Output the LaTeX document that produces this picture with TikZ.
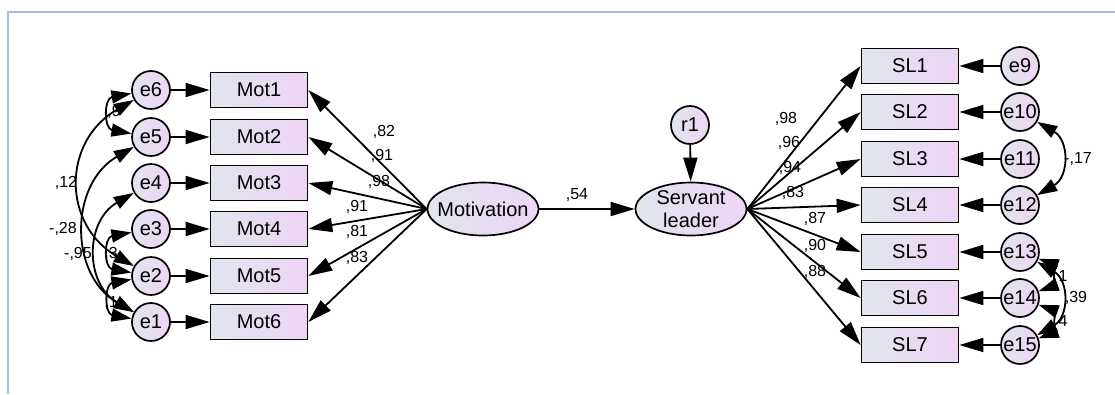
\documentclass[tikz,border=0pt]{standalone}
\usepackage{fontspec}
\setmainfont{Liberation Sans}
\usetikzlibrary{arrows.meta,shapes.geometric}

\definecolor{fillleft}{HTML}{E1E5EE}
\definecolor{fillright}{HTML}{EDD5F3}
\definecolor{framecol}{HTML}{A3BAEA}

\begin{document}
\begin{tikzpicture}[x=1pt,y=-1pt]
\tikzset{obs/.style = {rectangle,draw,line width=1.7pt,minimum width=97pt,minimum height=35pt,left color=fillleft,right color=fillright,font=\fontsize{20}{23}\selectfont}}
\tikzset{err/.style = {circle,draw,line width=1.7pt,minimum size=38pt,inner sep=0pt,left color=fillleft,right color=fillright,font=\fontsize{20}{23}\selectfont}}
\tikzset{latent/.style = {ellipse,draw,line width=1.7pt,minimum width=111pt,minimum height=53pt,inner xsep=-8pt,inner ysep=-7pt,align=center,left color=fillleft,right color=fillright,font=\fontsize{20}{23}\selectfont}}
\tikzset{edge/.style = {-{Triangle[length=24pt,width=14pt]},line width=1.8pt}}
\tikzset{cov/.style = {{Triangle[length=20pt,width=13pt]}-{Triangle[length=20pt,width=13pt]},line width=1.8pt}}
\tikzset{coef/.style = {font=\fontsize{16}{18}\selectfont,inner sep=0pt}}
\useasboundingbox (0,0) rectangle (1115,394);
\draw[framecol,line width=2pt] (8,394) -- (8,12) -- (1115,12);
% coefficients
\node[coef] (c82) at (384,132) {,82};
\node[coef] (c91a) at (382,156) {,91};
\node[coef] (c98a) at (379,182) {,98};
\node[coef] (c91b) at (357,207) {,91};
\node[coef] (c81) at (357,232) {,81};
\node[coef] (c83a) at (357,258) {,83};
\node[coef] (c12) at (66,183) {,12};
\node[coef] (c28) at (63,229) {-,28};
\node[coef] (c95) at (78,254) {-,95};
\node[coef] (c9x) at (114,112) {,9};
\node[coef] (c3x) at (111,254) {,3};
\node[coef] (c1x) at (111,303) {,1};
\node[coef] (c54) at (577,195) {,54};
\node[coef] (c98b) at (786,119) {,98};
\node[coef] (c96) at (789,143) {,96};
\node[coef] (c94) at (790,168) {,94};
\node[coef] (c83b) at (793,193) {,83};
\node[coef] (c87) at (815,219) {,87};
\node[coef] (c90) at (815,246) {,90};
\node[coef] (c88) at (815,272) {,88};
\node[coef] (c17) at (1078,159) {-,17};
\node[coef] (c39) at (1076,298) {,39};
\node[coef] (c1y) at (1063,276) {1};
\node[coef] (c4y) at (1063,321) {4};
% left block
\node[err] (e6) at (151,90) {e6};
\node[err] (e5) at (151,137) {e5};
\node[err] (e4) at (151,183) {e4};
\node[err] (e3) at (151,229) {e3};
\node[err] (e2) at (151,276) {e2};
\node[err] (e1) at (151,322) {e1};
\node[obs] (mot1) at (259,90) {Mot1};
\node[obs] (mot2) at (259,137) {Mot2};
\node[obs] (mot3) at (259,183) {Mot3};
\node[obs] (mot4) at (259,229) {Mot4};
\node[obs] (mot5) at (259,276) {Mot5};
\node[obs] (mot6) at (259,322) {Mot6};
\node[latent] (motv) at (483,209) {Motivation};
% right block
\node[latent] (slv) at (691,209) {Servant\\leader};
\node[err] (r1) at (690,125) {r1};
\node[obs] (sl1) at (910,66) {SL1};
\node[obs] (sl2) at (910,112) {SL2};
\node[obs] (sl3) at (910,159) {SL3};
\node[obs] (sl4) at (910,205) {SL4};
\node[obs] (sl5) at (910,252) {SL5};
\node[obs] (sl6) at (910,298) {SL6};
\node[obs] (sl7) at (910,345) {SL7};
\node[err] (e9) at (1020,66) {e9};
\node[err] (e10) at (1020,112) {e10};
\node[err] (e11) at (1020,159) {e11};
\node[err] (e12) at (1020,205) {e12};
\node[err] (e13) at (1020,252) {e13};
\node[err] (e14) at (1020,298) {e14};
\node[err] (e15) at (1020,345) {e15};
\draw[edge] (e6) -- (mot1);
\draw[edge] (e5) -- (mot2);
\draw[edge] (e4) -- (mot3);
\draw[edge] (e3) -- (mot4);
\draw[edge] (e2) -- (mot5);
\draw[edge] (e1) -- (mot6);
\draw[edge] (motv.west) -- (mot1.east);
\draw[edge] (motv.west) -- (mot2.east);
\draw[edge] (motv.west) -- (mot3.east);
\draw[edge] (motv.west) -- (mot4.east);
\draw[edge] (motv.west) -- (mot5.east);
\draw[edge] (motv.west) -- (mot6.east);
\draw[edge] (motv) -- (slv);
\draw[edge] (r1) -- (slv);
\draw[edge] (slv.east) -- (sl1.west);
\draw[edge] (slv.east) -- (sl2.west);
\draw[edge] (slv.east) -- (sl3.west);
\draw[edge] (slv.east) -- (sl4.west);
\draw[edge] (slv.east) -- (sl5.west);
\draw[edge] (slv.east) -- (sl6.west);
\draw[edge] (slv.east) -- (sl7.west);
\draw[edge] (e9) -- (sl1);
\draw[edge] (e10) -- (sl2);
\draw[edge] (e11) -- (sl3);
\draw[edge] (e12) -- (sl4);
\draw[edge] (e13) -- (sl5);
\draw[edge] (e14) -- (sl6);
\draw[edge] (e15) -- (sl7);
% covariances
\draw[cov] (e6) to[bend right=80,looseness=1.8] (e5);
\draw[cov] (e3) to[bend right=80,looseness=1.8] (e2);
\draw[cov] (e2) to[bend right=80,looseness=1.8] (e1);
\draw[cov] (e6) to[bend right=60,looseness=1.28] (e2);
\draw[cov] (e5) to[bend right=60,looseness=1.16] (e1);
\draw[cov] (e4) to[bend right=60,looseness=1.22] (e1);
\draw[cov] (e10) to[bend left=60,looseness=1.3] (e12);
\draw[cov] (e13) to[bend left=70,looseness=1.2] (e14);
\draw[cov] (e14) to[bend left=70,looseness=1.2] (e15);
\draw[cov] (e13) to[bend left=60,looseness=1.3] (e15);
\end{tikzpicture}
\end{document}
